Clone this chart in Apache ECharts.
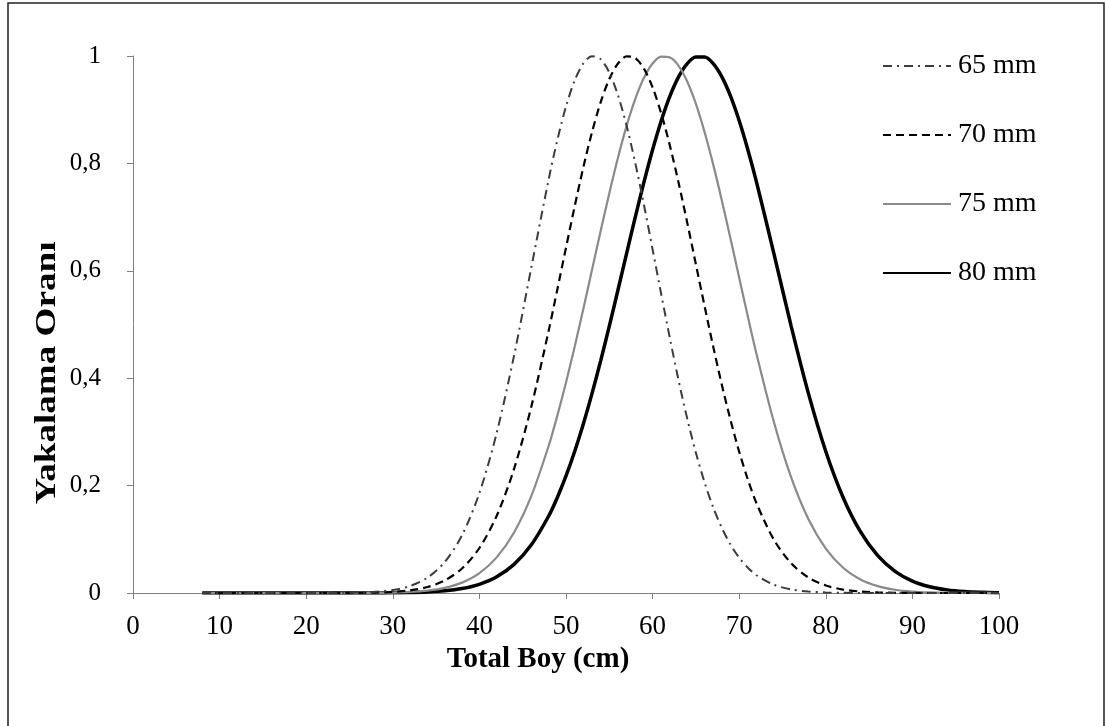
<!DOCTYPE html>
<html>
<head>
<meta charset="utf-8">
<style>
html,body{margin:0;padding:0;background:#fff;}
#chart{width:1105px;height:726px;}
</style>
<script src="https://cdn.jsdelivr.net/npm/echarts@6/dist/echarts.min.js"></script>
</head>
<body>
<div id="chart"></div>
<script>
// Shared x positions (Total Boy, cm)
var xValues = [8, 20, 26, 28, 30, 32, 34, 36, 38, 40, 42, 44, 46, 48,
  49, 50, 51, 52, 53, 54, 55, 56, 57, 58, 59, 60, 61, 62, 63, 64, 65, 66, 67, 68, 69, 70, 71, 72,
  74, 76, 78, 80, 82, 84, 86, 88, 90, 92, 94, 96, 98, 100];

var seriesNames = ['65 mm', '70 mm', '75 mm', '80 mm'];

var y65 = [0, 0, 0.0008, 0.0022, 0.0056, 0.0131, 0.0286, 0.0577, 0.1077, 0.1862, 0.2982, 0.442, 0.6065, 0.7704,
  0.8436, 0.906, 0.9544, 0.986, 0.9996, 0.994, 0.9692, 0.927, 0.870, 0.8007, 0.7229, 0.640, 0.5561, 0.474, 0.396, 0.3247, 0.261, 0.206, 0.1593, 0.121, 0.090, 0.0657, 0.0471, 0.0331,
  0.0154, 0.0066, 0.0027, 0.001, 0.0003, 0, 0, 0, 0, 0, 0, 0, 0, 0];

var y70 = [0, 0, 0.0003, 0.0008, 0.0021, 0.005, 0.0111, 0.0234, 0.0457, 0.0838, 0.1439, 0.231, 0.3473, 0.4886,
  0.5653, 0.6432, 0.7199, 0.7925, 0.858, 0.9138, 0.9571, 0.986, 0.9993, 0.996, 0.9764, 0.9414, 0.8928, 0.8328, 0.7641, 0.6895, 0.612, 0.5343, 0.4588, 0.3874, 0.3219, 0.263, 0.2113, 0.167,
  0.0993, 0.0553, 0.0288, 0.014, 0.0064, 0.0027, 0.0011, 0.0004, 0.0001, 0, 0, 0, 0, 0];

var y75 = [0, 0, 0.0001, 0.0003, 0.0008, 0.002, 0.0045, 0.0096, 0.0193, 0.0369, 0.0664, 0.1128, 0.181, 0.2742,
  0.3303, 0.392, 0.4587, 0.529, 0.6015, 0.674, 0.7444, 0.8105, 0.8698, 0.920, 0.9593, 0.986, 0.9988, 0.997, 0.9817, 0.9525, 0.9108, 0.8586, 0.7977, 0.7306, 0.6596, 0.5869, 0.5148, 0.445,
  0.3186, 0.2152, 0.1373, 0.0827, 0.047, 0.0252, 0.0128, 0.0061, 0.0028, 0.0012, 0.0005, 0.0002, 0.0001, 0];

var y80 = [0, 0, 0, 0.0001, 0.0003, 0.0008, 0.0019, 0.004, 0.0083, 0.0162, 0.0301, 0.0533, 0.0897, 0.1434,
  0.1779, 0.218, 0.2636, 0.3148, 0.3713, 0.4323, 0.497, 0.5642, 0.6325, 0.70, 0.765, 0.8255, 0.8795, 0.9253, 0.9612, 0.9858, 0.998, 0.998, 0.9858, 0.9612, 0.9253, 0.8795, 0.8255, 0.765,
  0.6325, 0.497, 0.3713, 0.2636, 0.1779, 0.1141, 0.0696, 0.0404, 0.0222, 0.0116, 0.0058, 0.0027, 0.0012, 0.0005];

var xTitle = 'Total Boy (cm)';
var yTitle = 'Yakalama Oranı';

function pairs(ys) {
  return xValues.map(function (x, i) { return [x, ys[i]]; });
}

var FONT = '"Liberation Serif", "DejaVu Serif", serif';
var chart = echarts.init(document.getElementById('chart'), null, {renderer: 'canvas'});

var styles = [
  {color: '#3c3c3c', width: 2, type: [9, 5, 2, 5]},
  {color: '#000000', width: 2.2, type: [8, 5]},
  {color: '#8a8a8a', width: 2.2, type: 'solid'},
  {color: '#000000', width: 3.5, type: 'solid'}
];
var datas = [y65, y70, y75, y80];

chart.setOption({
  animation: false,
  backgroundColor: '#ffffff',
  graphic: [{
    type: 'rect',
    shape: {x: 8, y: 3, width: 1096, height: 740},
    style: {fill: 'none', stroke: '#222', lineWidth: 1.5},
    silent: true
  }, {
    type: 'text',
    x: 48,
    y: 373,
    rotation: Math.PI / 2,
    scaleX: 1.28,
    style: {
      text: yTitle,
      font: 'bold 29px "Liberation Serif", serif',
      fill: '#000',
      align: 'center',
      verticalAlign: 'middle'
    },
    silent: true
  }],
  grid: {left: 133, right: 106, top: 56, bottom: 133, containLabel: false},
  legend: {
    orient: 'vertical',
    left: 882,
    top: 52,
    padding: 0,
    itemWidth: 68,
    itemHeight: 14,
    itemGap: 41,
    data: seriesNames,
    itemStyle: {opacity: 0},
    textStyle: {fontFamily: FONT, fontSize: 28, color: '#000', padding: [0, 0, 0, 2]}
  },
  xAxis: {
    type: 'value',
    min: 0, max: 100, interval: 10,
    name: xTitle,
    nameLocation: 'middle',
    nameGap: 35,
    nameTextStyle: {fontFamily: FONT, fontSize: 29, fontWeight: 'bold', color: '#000', padding: [0, 56, 0, 0]},
    axisLine: {show: true, onZero: false, lineStyle: {color: '#808080', width: 1}},
    axisTick: {show: true, length: 6, lineStyle: {color: '#808080'}},
    axisLabel: {fontFamily: FONT, fontSize: 27, color: '#000', margin: 20},
    splitLine: {show: false}
  },
  yAxis: {
    type: 'value',
    min: 0, max: 1, interval: 0.2,
    axisLine: {show: true, lineStyle: {color: '#808080', width: 1}},
    axisTick: {show: true, length: 6, lineStyle: {color: '#808080'}},
    axisLabel: {
      fontFamily: FONT, fontSize: 25, color: '#000', margin: 32,
      formatter: function (v) { return String(Math.round(v * 10) / 10).replace('.', ','); }
    },
    splitLine: {show: false}
  },
  series: seriesNames.map(function (n, i) {
    return {
      name: n,
      type: 'line',
      data: pairs(datas[i]),
      smooth: 0.3,
      symbol: 'none',
      showSymbol: false,
      color: styles[i].color,
      lineStyle: {color: styles[i].color, width: styles[i].width, type: styles[i].type},
      z: 10 - i
    };
  })
});
</script>
</body>
</html>
